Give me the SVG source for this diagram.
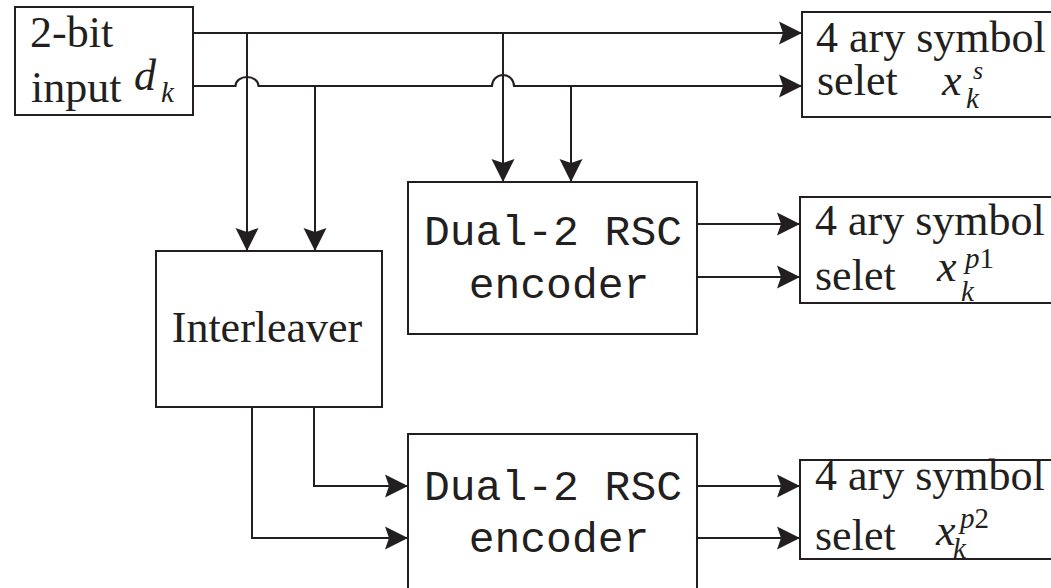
<svg xmlns="http://www.w3.org/2000/svg" width="1051" height="588" viewBox="0 0 1051 588">
  <style>
    .box { fill: #ffffff; stroke: #231f20; stroke-width: 2; }
    .wire { fill: none; stroke: #231f20; stroke-width: 2; }
    .serif { font-family: "Liberation Serif", "Times New Roman", serif; fill: #231f20; font-size: 44px; }
    .mono { font-family: "Liberation Mono", "Courier New", monospace; fill: #231f20; font-size: 43px; }
    .it { font-style: italic; }
    .sub { font-style: italic; font-size: 29px; }
  </style>
  <defs>
    <marker id="arrow" markerUnits="userSpaceOnUse" viewBox="-24 -12 25 24" markerWidth="25" markerHeight="24" refX="0" refY="0" orient="auto">
      <path d="M0,0 L-23,-11.5 L-19,0 L-23,11.5 Z" fill="#231f20"/>
    </marker>
  </defs>
  <rect width="1051" height="588" fill="#ffffff"/>

  <!-- connectors -->
  <g id="connectors" class="wire" marker-end="url(#arrow)">
    <path d="M193,33 H802"/>
    <path d="M193,86 H235.5 A11.5,9 0 0 1 258.5,86 H492 A11,11 0 0 1 514,86 H802"/>
    <path d="M247,33 V251"/>
    <path d="M315,86 V251"/>
    <path d="M503,33 V182"/>
    <path d="M571,86 V182"/>
    <path d="M697,224 H800"/>
    <path d="M697,277 H800"/>
    <path d="M697,486 H800"/>
    <path d="M697,538 H800"/>
    <path d="M314,407 V486 H408"/>
    <path d="M252,407 V538 H408"/>
  </g>

  <!-- source -->
  <g id="input">
    <rect class="box" x="15" y="7" width="178" height="108"/>
    <text class="serif"><tspan x="30" y="47">2-bit</tspan><tspan x="31" y="102">input</tspan><tspan class="it" x="134" y="90">d</tspan><tspan class="sub" x="161" y="102">k</tspan></text>
  </g>

  <!-- interleaver -->
  <g id="interleaver">
    <rect class="box" x="156" y="251" width="226" height="156"/>
    <text class="serif" x="267" y="342" text-anchor="middle">Interleaver</text>
  </g>

  <!-- constituent encoders -->
  <g id="encoder1">
    <rect class="box" x="408" y="182" width="289" height="152"/>
    <text class="mono" text-anchor="middle"><tspan x="553" y="245">Dual-2 RSC</tspan><tspan x="559" y="298">encoder</tspan></text>
  </g>
  <g id="encoder2">
    <rect class="box" x="408" y="434" width="289" height="200"/>
    <text class="mono" text-anchor="middle"><tspan x="553" y="500">Dual-2 RSC</tspan><tspan x="559" y="552">encoder</tspan></text>
  </g>

  <!-- symbol mappers -->
  <g id="select-s">
    <rect class="box" x="802" y="12" width="300" height="105"/>
    <text class="serif"><tspan x="816" y="52">4 ary symbol</tspan><tspan x="817" y="95">selet</tspan><tspan class="it" x="942" y="95">x</tspan><tspan class="sub" x="966" y="108">k</tspan><tspan class="it" font-size="26" x="973" y="79">s</tspan></text>
  </g>
  <g id="select-p1">
    <rect class="box" x="800" y="197" width="300" height="106"/>
    <text class="serif"><tspan x="815" y="235">4 ary symbol</tspan><tspan x="815" y="290">selet</tspan><tspan class="it" x="937" y="281">x</tspan><tspan class="sub" x="961" y="301">k</tspan><tspan class="sub" x="965" y="268">p</tspan><tspan font-size="29">1</tspan></text>
  </g>
  <g id="select-p2">
    <rect class="box" x="800" y="460" width="300" height="99"/>
    <text class="serif"><tspan x="815" y="490">4 ary symbol</tspan><tspan x="815" y="550">selet</tspan><tspan class="it" x="936" y="545">x</tspan><tspan class="sub" x="953" y="558">k</tspan><tspan class="sub" x="960" y="528">p</tspan><tspan font-size="29">2</tspan></text>
  </g>
</svg>
